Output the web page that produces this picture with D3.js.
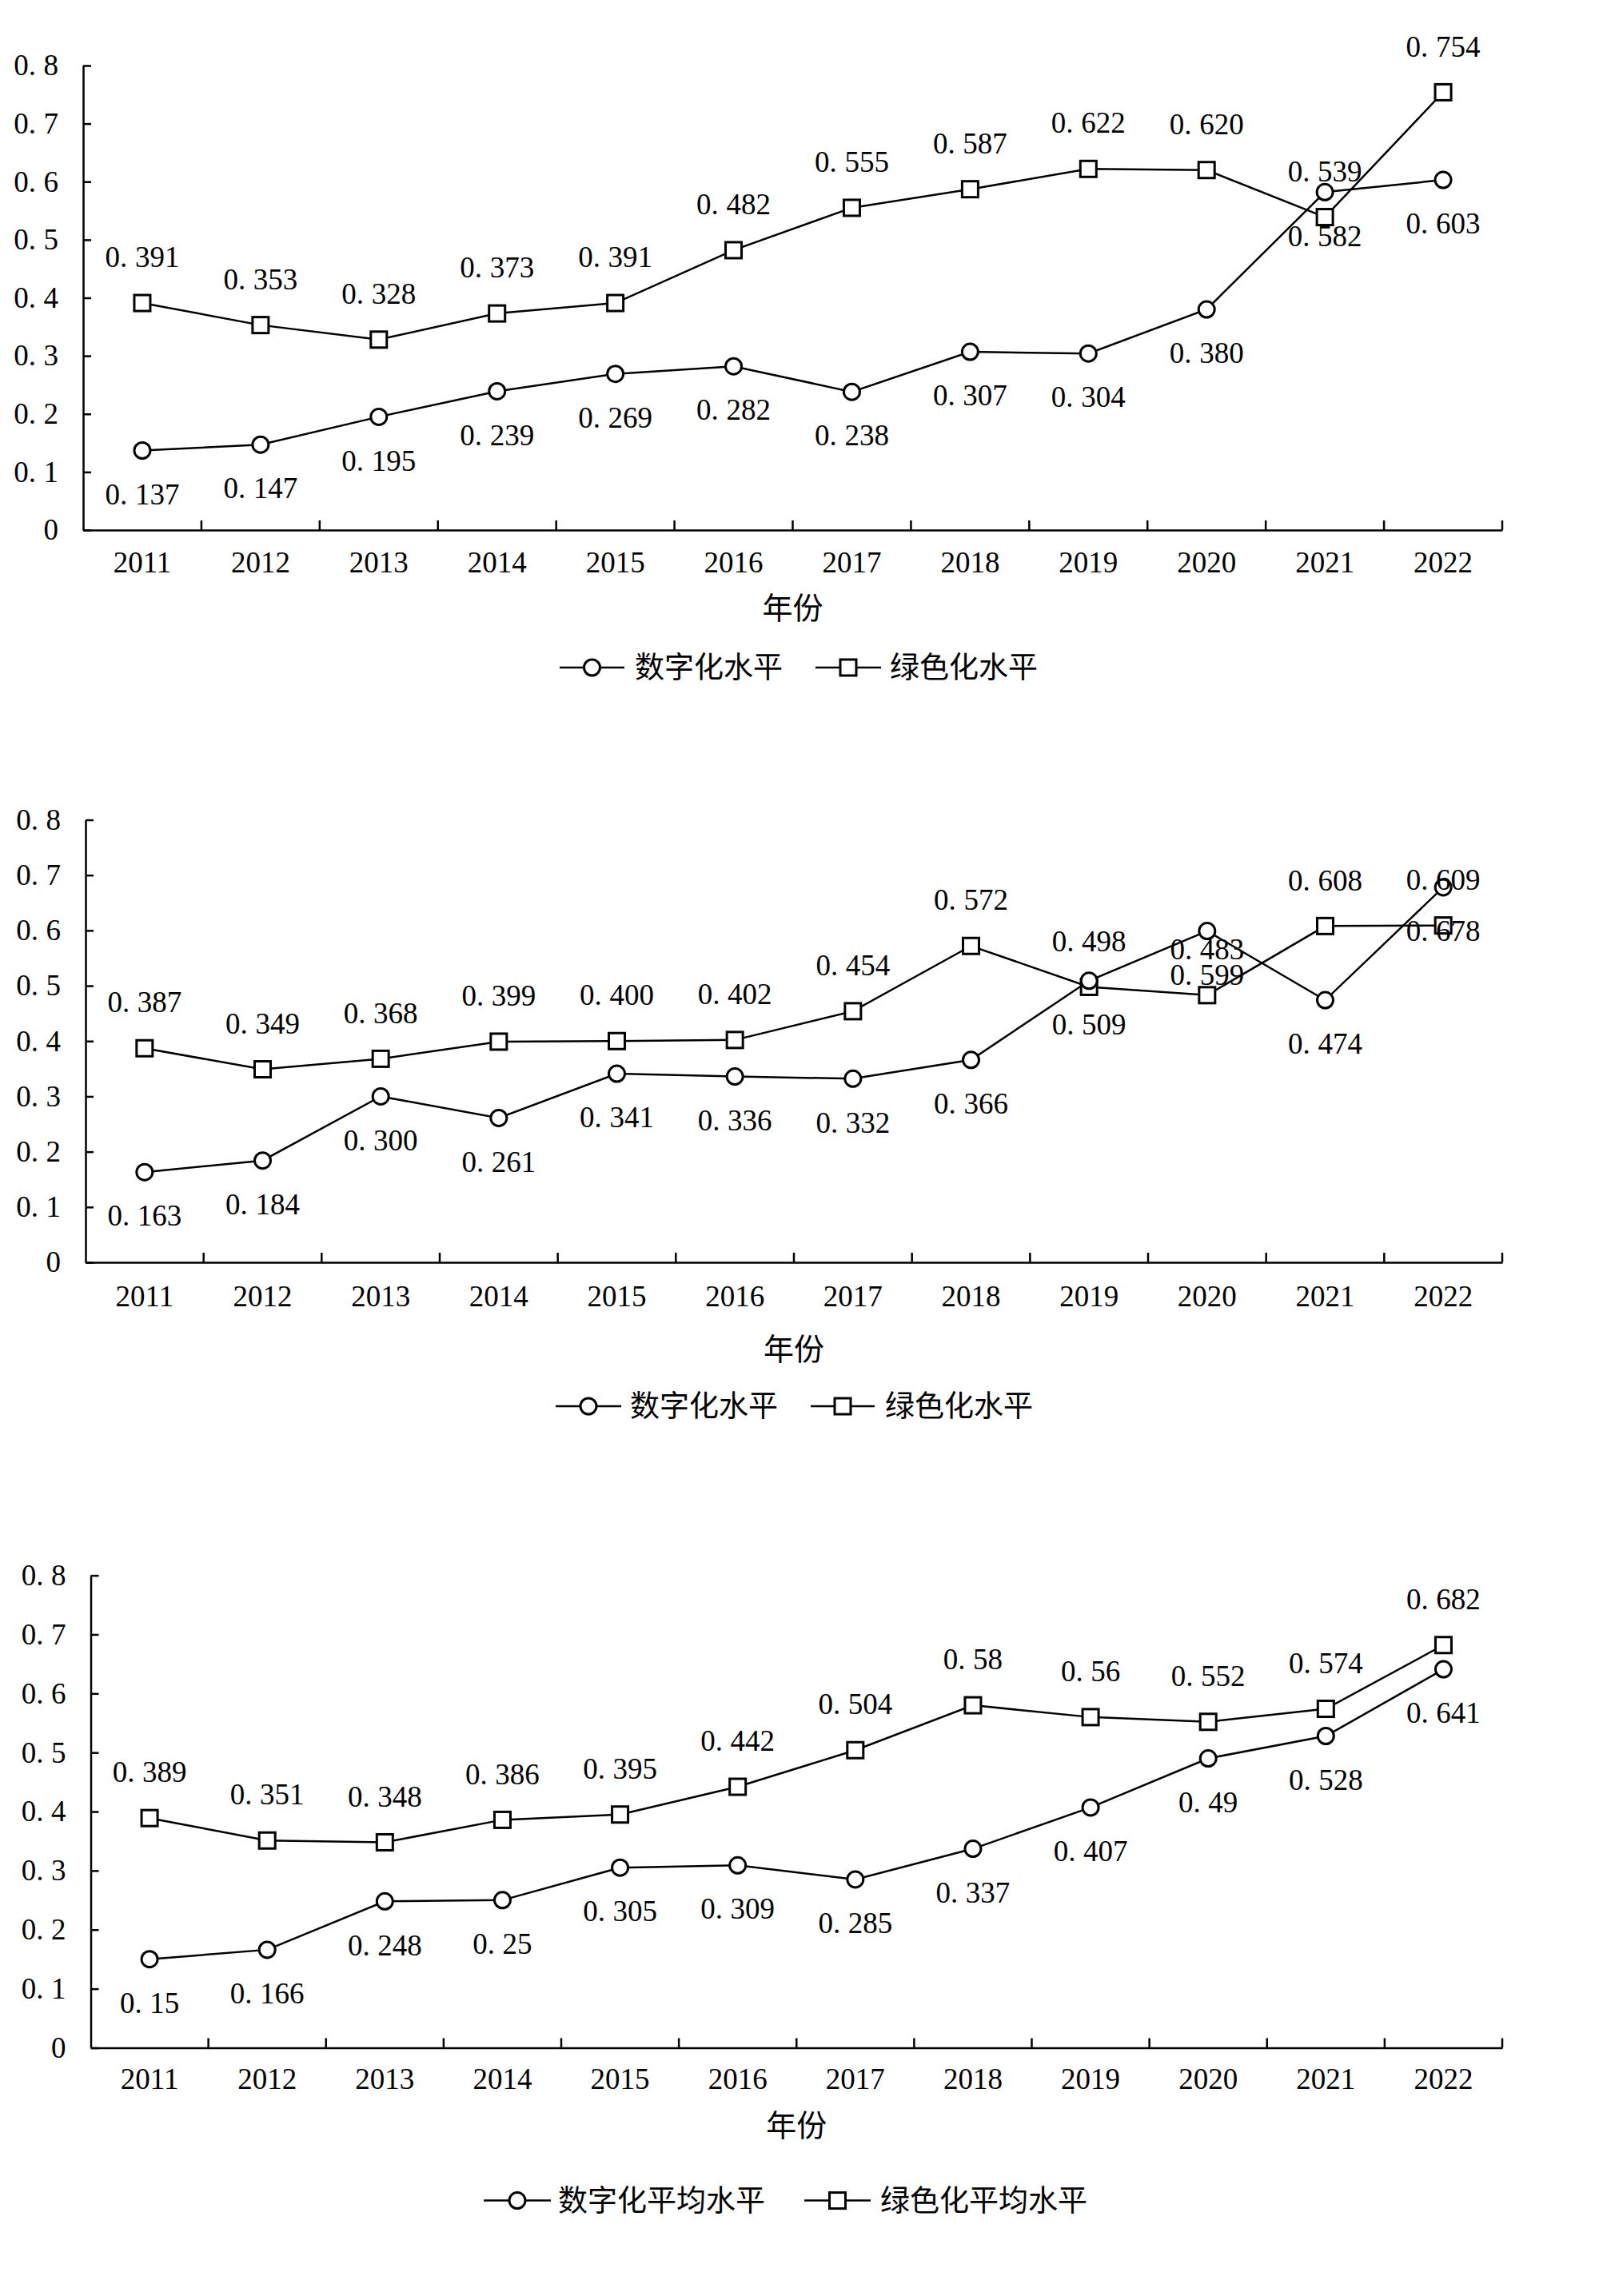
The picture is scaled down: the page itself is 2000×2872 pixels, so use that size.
<!DOCTYPE html>
<html>
<head>
<meta charset="utf-8">
<script src="https://cdn.jsdelivr.net/npm/d3@7"></script>
<style>
  html, body { margin: 0; padding: 0; background: #fff; }
  svg { display: block; }
</style>
</head>
<body>
<svg id="chart" width="2000" height="2872"></svg>
<script>
// ---------------- DATA ----------------
const years = ["2011","2012","2013","2014","2015","2016","2017","2018","2019","2020","2021","2022"];
const yTicks = [0, 0.1, 0.2, 0.3, 0.4, 0.5, 0.6, 0.7, 0.8];
const axisTitle = "年份";

const digital1 = [0.137, 0.147, 0.195, 0.239, 0.269, 0.282, 0.238, 0.307, 0.304, 0.380, 0.582, 0.603];
const green1   = [0.391, 0.353, 0.328, 0.373, 0.391, 0.482, 0.555, 0.587, 0.622, 0.620, 0.539, 0.754];
const legend1  = ["数字化水平", "绿色化水平"];

const digital2 = [0.163, 0.184, 0.300, 0.261, 0.341, 0.336, 0.332, 0.366, 0.509, 0.599, 0.474, 0.678];
const green2   = [0.387, 0.349, 0.368, 0.399, 0.400, 0.402, 0.454, 0.572, 0.498, 0.483, 0.608, 0.609];
const legend2  = ["数字化水平", "绿色化水平"];

const digital3 = [0.15, 0.166, 0.248, 0.25, 0.305, 0.309, 0.285, 0.337, 0.407, 0.49, 0.528, 0.641];
const green3   = [0.389, 0.351, 0.348, 0.386, 0.395, 0.442, 0.504, 0.58, 0.56, 0.552, 0.574, 0.682];
const legend3  = ["数字化平均水平", "绿色化平均水平"];

// ---------------- LAYOUT ----------------
const charts = [
  { digital: digital1, green: green1, legend: legend1, fmt: d3.format(".3f"),
    left: 104, right: 1879, top: 82, bottom: 663, tickY: 703, titleY: 761, legendY: 835,
    leg: [{x0: 700, x1: 781, tx: 794}, {x0: 1020, x1: 1102, tx: 1113}] },
  { digital: digital2, green: green2, legend: legend2, fmt: d3.format(".3f"),
    left: 107, right: 1879, top: 1025.5, bottom: 1579, tickY: 1621, titleY: 1688, legendY: 1759,
    leg: [{x0: 695, x1: 777, tx: 788}, {x0: 1014, x1: 1094, tx: 1107}] },
  { digital: digital3, green: green3, legend: legend3, fmt: d => String(d),
    left: 113.5, right: 1879, top: 1970.6, bottom: 2561.5, tickY: 2600, titleY: 2658.5, legendY: 2752.6,
    leg: [{x0: 605, x1: 689, tx: 698}, {x0: 1006, x1: 1089, tx: 1101}] }
];

const NUM_FONT = "'Liberation Serif', 'DejaVu Serif', serif";
const CJK_FONT = "'Noto Sans CJK SC', 'Noto Sans', sans-serif";
const FS = 37;
const R = 10, SQ = 20;

const svg = d3.select("#chart");

// write number with SimSun-like wide period
function numText(sel, str) {
  sel.text(null);
  const i = str.indexOf(".");
  if (i < 0) { sel.append("tspan").text(str); return; }
  sel.append("tspan").text(str.slice(0, i + 1));
  sel.append("tspan").attr("dx", "0.26em").text(str.slice(i + 1));
}

function marker(g, type, cx, cy) {
  if (type === "circle") {
    g.append("circle").attr("cx", cx).attr("cy", cy).attr("r", R)
      .attr("fill", "#fff").attr("stroke", "#000").attr("stroke-width", 3);
  } else {
    g.append("rect").attr("x", cx - SQ / 2).attr("y", cy - SQ / 2)
      .attr("width", SQ).attr("height", SQ)
      .attr("fill", "#fff").attr("stroke", "#000").attr("stroke-width", 3);
  }
}

charts.forEach(c => {
  const g = svg.append("g");
  const x = d3.scaleBand().domain(years).range([c.left, c.right]);
  const y = d3.scaleLinear().domain([0, 0.8]).range([c.bottom, c.top]);
  const cx = d => x(d) + x.bandwidth() / 2;

  // Y axis (ticks inside)
  const yAxis = d3.axisLeft(y).tickValues(yTicks).tickSizeInner(-10).tickSizeOuter(0).tickPadding(31)
    .tickFormat(d => d === 0 ? "0" : d3.format(".1f")(d));
  const ya = g.append("g").attr("transform", `translate(${c.left},0)`).call(yAxis);
  ya.select(".domain").attr("stroke", "#000").attr("stroke-width", 2.5);
  ya.selectAll(".tick line").attr("stroke", "#000").attr("stroke-width", 2.5);
  ya.selectAll(".tick text").attr("font-family", NUM_FONT).attr("font-size", FS).attr("fill", "#000")
    .each(function(d) { numText(d3.select(this), d === 0 ? "0" : d3.format(".1f")(d)); });

  // X axis
  const xAxis = d3.axisBottom(x).tickSize(0).tickSizeOuter(0).tickPadding(0);
  const xa = g.append("g").attr("transform", `translate(0,${c.bottom})`).call(xAxis);
  xa.select(".domain").attr("stroke", "#000").attr("stroke-width", 2.5);
  xa.selectAll(".tick text").attr("font-family", NUM_FONT).attr("font-size", FS).attr("fill", "#000")
    .attr("y", c.tickY - c.bottom).attr("dy", "0.35em");
  // boundary ticks pointing up
  const bounds = years.slice(1).map(d => x(d)).concat([x.range()[1]]);
  g.selectAll(null).data(bounds).enter().append("line")
    .attr("x1", d => d).attr("x2", d => d)
    .attr("y1", c.bottom).attr("y2", c.bottom - 12)
    .attr("stroke", "#000").attr("stroke-width", 2.5);

  // axis title
  g.append("text").attr("x", (c.left + c.right) / 2).attr("y", c.titleY).attr("dy", "0.35em")
    .attr("text-anchor", "middle").attr("font-family", CJK_FONT).attr("font-size", 38).attr("fill", "#000")
    .text(axisTitle);

  // lines
  const line = d3.line().x((d, i) => cx(years[i])).y(d => y(d));
  [c.green, c.digital].forEach(s => {
    g.append("path").datum(s).attr("d", line).attr("fill", "none")
      .attr("stroke", "#000").attr("stroke-width", 2.5);
  });

  // markers
  c.green.forEach((v, i) => marker(g, "square", cx(years[i]), y(v)));
  c.digital.forEach((v, i) => marker(g, "circle", cx(years[i]), y(v)));

  // labels
  c.green.forEach((v, i) => {
    const t = g.append("text").attr("x", cx(years[i])).attr("y", y(v) - 57).attr("dy", "0.33em")
      .attr("text-anchor", "middle").attr("font-family", NUM_FONT).attr("font-size", FS).attr("fill", "#000");
    numText(t, c.fmt(v));
  });
  c.digital.forEach((v, i) => {
    const t = g.append("text").attr("x", cx(years[i])).attr("y", y(v) + 55).attr("dy", "0.33em")
      .attr("text-anchor", "middle").attr("font-family", NUM_FONT).attr("font-size", FS).attr("fill", "#000");
    numText(t, c.fmt(v));
  });

  // legend
  ["circle", "square"].forEach((type, k) => {
    const L = c.leg[k];
    g.append("line").attr("x1", L.x0).attr("x2", L.x1).attr("y1", c.legendY).attr("y2", c.legendY)
      .attr("stroke", "#000").attr("stroke-width", 2.5);
    marker(g, type, (L.x0 + L.x1) / 2, c.legendY);
    g.append("text").attr("x", L.tx).attr("y", c.legendY).attr("dy", "0.36em")
      .attr("font-family", CJK_FONT).attr("font-size", 37).attr("fill", "#000")
      .text(c.legend[k]);
  });
});
</script>
</body>
</html>
